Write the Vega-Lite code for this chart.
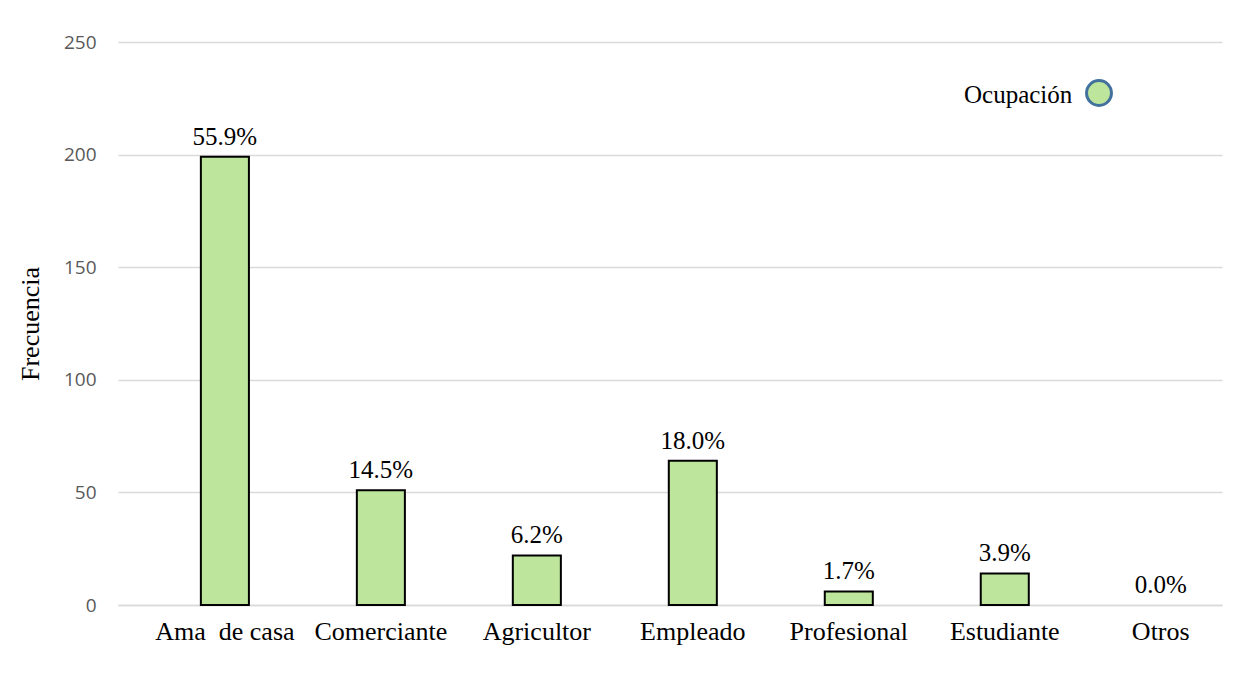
{
  "$schema": "https://vega.github.io/schema/vega-lite/v6.json",
  "width": 1104,
  "height": 563,
  "autosize": {"type": "none"},
  "padding": {"left": 118, "top": 42, "right": 15, "bottom": 82},
  "background": "white",
  "config": {"view": {"stroke": null}},
  "data": {
    "values": [
      {"ocupacion": "Ama\u00a0 de casa", "frecuencia": 199, "pct": "55.9%"},
      {"ocupacion": "Comerciante", "frecuencia": 51, "pct": "14.5%"},
      {"ocupacion": "Agricultor", "frecuencia": 22, "pct": "6.2%"},
      {"ocupacion": "Empleado", "frecuencia": 64, "pct": "18.0%"},
      {"ocupacion": "Profesional", "frecuencia": 6, "pct": "1.7%"},
      {"ocupacion": "Estudiante", "frecuencia": 14, "pct": "3.9%"},
      {"ocupacion": "Otros", "frecuencia": 0, "pct": "0.0%"}
    ]
  },
  "encoding": {
    "x": {
      "field": "ocupacion",
      "type": "nominal",
      "sort": null,
      "scale": {"paddingInner": 0.692, "paddingOuter": 0.385, "align": 0.69},
      "axis": {
        "title": null,
        "labelAngle": 0,
        "labelFont": "Liberation Serif",
        "labelFontSize": 26,
        "labelColor": "#000000",
        "ticks": false,
        "domainColor": "#D9D9D9",
        "domainWidth": 1.5,
        "labelPadding": 13
      }
    },
    "y": {
      "field": "frecuencia",
      "type": "quantitative",
      "scale": {"domain": [0, 250]},
      "axis": {
        "title": "Frecuencia",
        "values": [0, 50, 100, 150, 200, 250],
        "labelFont": "Open Sans",
        "labelFontSize": 19,
        "labelColor": "#595959",
        "ticks": false,
        "domain": false,
        "gridColor": "#D9D9D9",
        "gridWidth": 1.3,
        "labelPadding": 22,
        "titleFont": "Liberation Serif",
        "titleFontSize": 26,
        "titleFontWeight": "normal",
        "titleColor": "#000000",
        "titlePadding": 20
      }
    }
  },
  "layer": [
    {
      "mark": {"type": "bar", "stroke": "#000000"},
      "encoding": {
        "strokeWidth": {"condition": {"test": "datum.frecuencia > 0", "value": 2}, "value": 0},
        "color": {
          "datum": "Ocupación",
          "scale": {"range": ["#BDE59C"]},
          "legend": {
            "title": "Ocupación",
            "orient": "none",
            "legendX": 846,
            "legendY": 37,
            "padding": 0,
            "titleOrient": "left",
            "titleFont": "Liberation Serif",
            "titleFontSize": 25,
            "titleFontWeight": "normal",
            "titleColor": "#000000",
            "titlePadding": 12,
            "labelExpr": "''",
            "symbolType": "circle",
            "symbolSize": 620,
            "symbolStrokeColor": "#41719C",
            "symbolStrokeWidth": 3
          }
        }
      }
    },
    {
      "mark": {"type": "text", "font": "Liberation Serif", "fontSize": 25, "baseline": "alphabetic", "dy": -12, "color": "#000000"},
      "encoding": {"text": {"field": "pct"}}
    }
  ]
}
